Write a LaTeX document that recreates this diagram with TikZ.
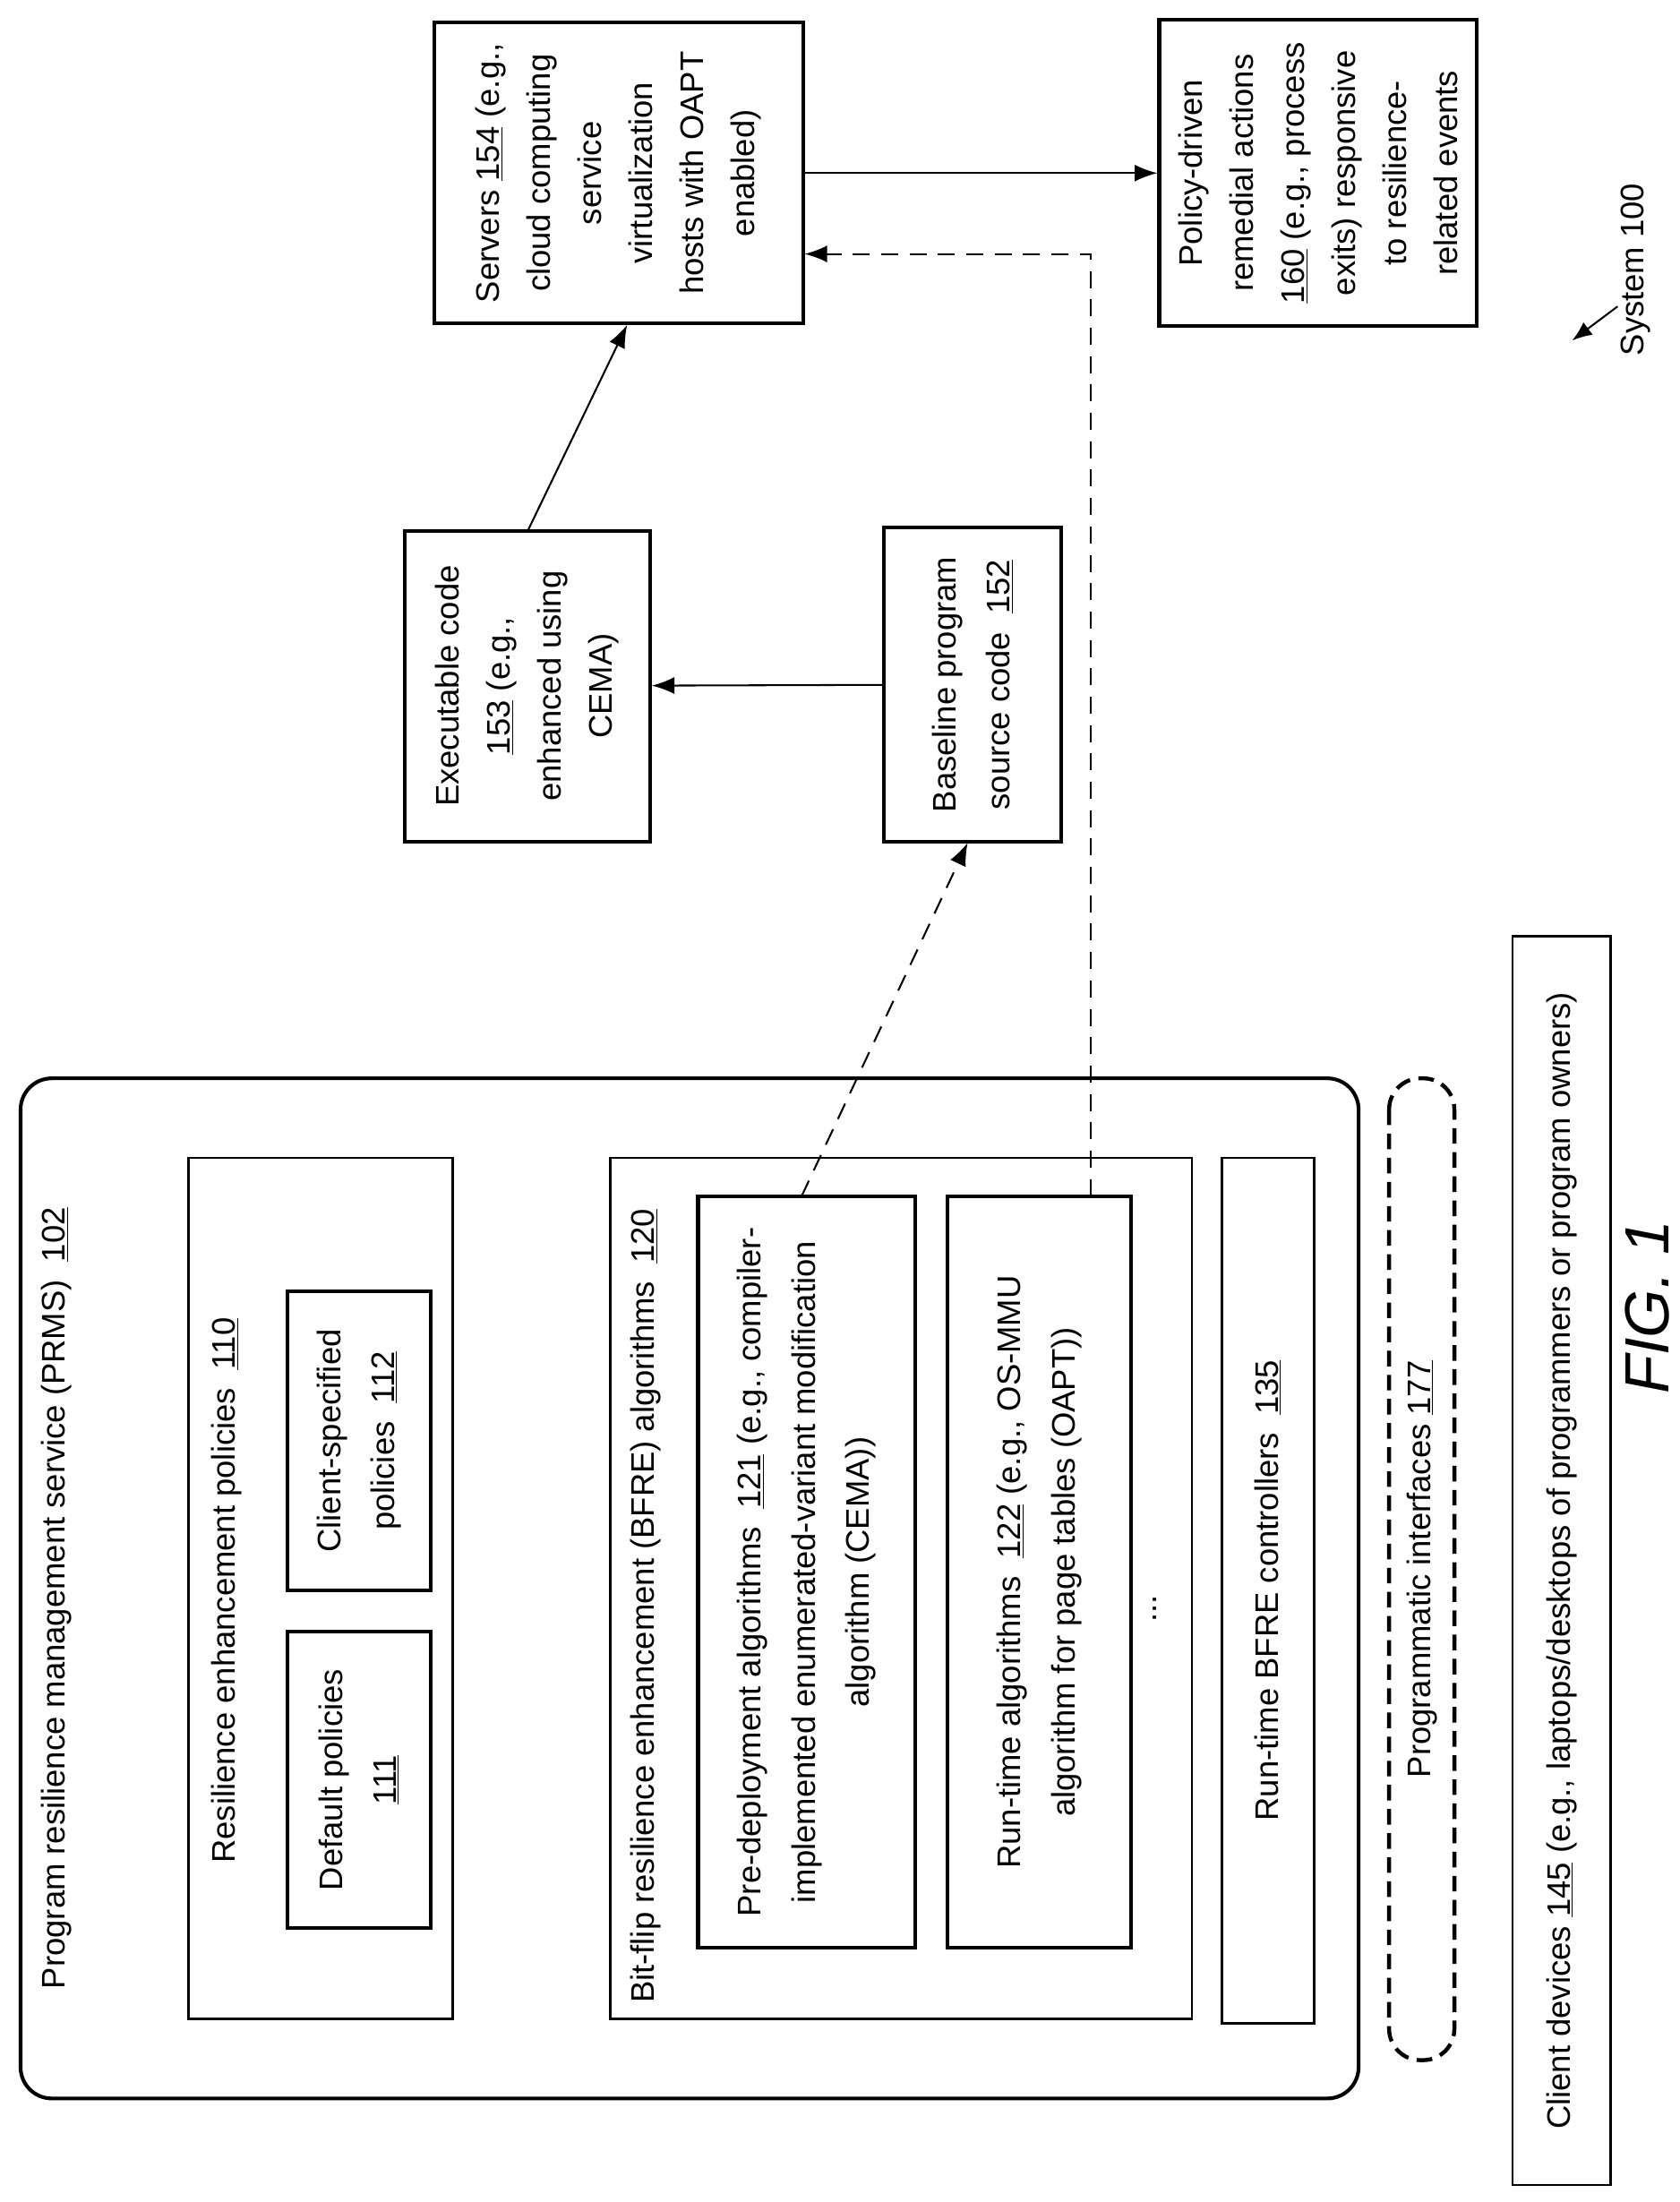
\documentclass[tikz,border=0pt]{standalone}
\usepackage{fontspec}
\setmainfont{Liberation Sans}
\usetikzlibrary{arrows.meta}
\begin{document}
\begin{tikzpicture}[x=1pt,y=-1pt,
  every node/.style={font=\fontsize{23}{38}\selectfont, align=center, inner sep=0pt},
  thk/.style={draw, line width=2.6pt, rotate=90},
  thn/.style={draw, line width=1.7pt, rotate=90},
  txt/.style={rotate=90},
  arr/.style={line width=1.3pt, -{Latex[length=16pt,width=12pt]}},
  darr/.style={arr, dash pattern=on 12pt off 8pt}]
\useasboundingbox (0,0) rectangle (1184,1552);
% PRMS
\node[thk, rounded corners=22pt, minimum width=719pt, minimum height=943pt] (prms) at (486,1119.5) {};
\node[txt, anchor=west] (prmst) at (40,1402) {Program resilience management service (PRMS)\ \ \underline{102}};
% 110
\node[thn, minimum width=607pt, minimum height=186pt] (p110) at (226,1119.5) {};
\node[txt] (p110t) at (160,1121) {Resilience enhancement policies\ \ \underline{110}};
\node[thk, minimum width=209pt, minimum height=101pt] (p111) at (253,1254.5) {Default policies\\\underline{111}};
\node[thk, minimum width=211pt, minimum height=101pt] (p112) at (253,1015.5) {Client-specified\\policies\ \ \underline{112}};
% 120
\node[thn, minimum width=607pt, minimum height=410pt] (p120) at (635,1119.5) {};
\node[txt, anchor=west] (p120t) at (455,1412) {Bit-flip resilience enhancement (BFRE) algorithms\ \ \underline{120}};
\node[thk, minimum width=530pt, minimum height=153pt] (p121) at (568.5,1108) {Pre-deployment algorithms\ \ \underline{121} (e.g., compiler-\\implemented enumerated-variant modification\\algorithm (CEMA))};
\node[thk, minimum width=530pt, minimum height=129pt] (p122) at (732.5,1108) {Run-time algorithms\ \ \underline{122} (e.g., OS-MMU\\algorithm for page tables (OAPT))};
\node[txt] (dots) at (814,1134) {...};
% 135
\node[thn, minimum width=610pt, minimum height=65pt] (p135) at (893.5,1121) {Run-time BFRE controllers\ \ \underline{135}};
% 177
\node[draw, rotate=90, line width=2.8pt, dash pattern=on 11pt off 6pt, rounded corners=22pt, minimum width=692pt, minimum height=46pt] (p177) at (1002,1106) {Programmatic interfaces \underline{177}};
% 145
\node[thn, minimum width=880pt, minimum height=69pt] (p145) at (1100.5,1100) {Client devices \underline{145} (e.g., laptops/desktops of programmers or program owners)};
\node[txt, font=\fontsize{44}{50}\selectfont\itshape] (fig) at (1161,921) {FIG. 1};
% top
\node[thk, minimum width=219pt, minimum height=173pt, font=\fontsize{23}{36}\selectfont] (p153) at (371.5,483.5) {Executable code\\\underline{153} (e.g.,\\enhanced using\\CEMA)};
\node[thk, minimum width=221pt, minimum height=125pt] (p152) at (685.5,482.5) {Baseline program\\source code\ \ \underline{152}};
\node[thk, minimum width=212pt, minimum height=260pt, font=\fontsize{23}{36}\selectfont] (p154) at (436,122) {Servers \underline{154} (e.g.,\\cloud computing\\service\\virtualization\\hosts with OAPT\\enabled)};
\node[thk, minimum width=216pt, minimum height=224pt, font=\fontsize{23}{36}\selectfont] (p160) at (929,122) {Policy-driven\\remedial actions\\\underline{160} (e.g., process\\exits) responsive\\to resilience-\\related events};
\node[txt] (sys) at (1153,190) {System 100};
% connectors
\draw[arr] (p152) -- (p153);
\coordinate (a1) at (372,374);
\coordinate (a2) at (442,229);
\draw[arr] (a1) -- (a2);
\draw[arr] (p154) -- (p160);
\coordinate (d1) at (565,843);
\coordinate (d2) at (682,594);
\draw[darr] (d1) -- (d2);
\coordinate (d3) at (769,843);
\coordinate (d4) at (567,179);
\draw[darr] (d3) |- (d4);
\coordinate (s1) at (1140,216);
\coordinate (s2) at (1108,240);
\draw[arr, -{Latex[length=14pt,width=11pt]}] (s1) -- (s2);
\end{tikzpicture}
\end{document}
